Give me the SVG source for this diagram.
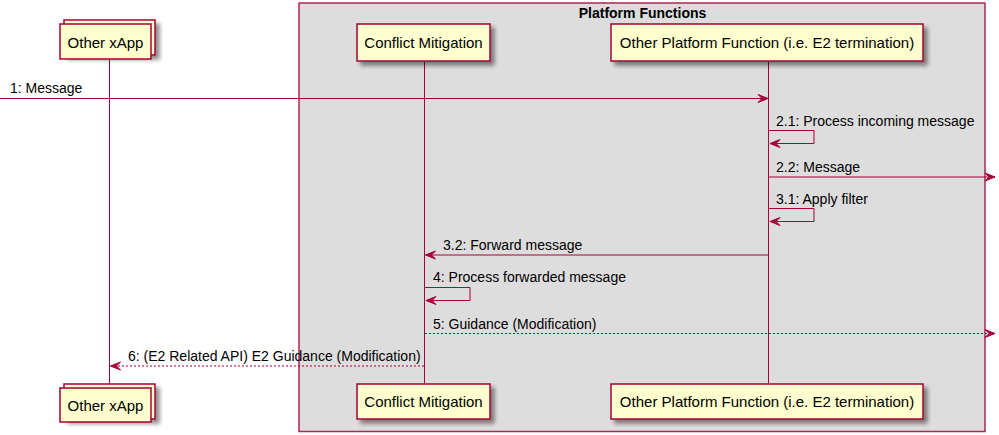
<svg xmlns="http://www.w3.org/2000/svg" width="999" height="435" viewBox="0 0 999 435">
<style>
.part{fill:#FEFECE;stroke:#A80036;stroke-width:1.5}
.ptxt{font-family:"Liberation Sans",Arial,sans-serif;font-size:15px;fill:#000}
.mtxt{font-family:"Liberation Sans",Arial,sans-serif;font-size:14px;fill:#000}
.life{stroke:#A80036;stroke-width:1;fill:none}
.msg{stroke:#A80036;stroke-width:1;fill:none;marker-end:url(#ah)}
.dot{stroke-dasharray:2,2}
</style>
<defs>
<filter id="sh" x="-20%" y="-30%" width="140%" height="170%">
<feGaussianBlur in="SourceAlpha" stdDeviation="2"/>
<feOffset dx="4" dy="4" result="o"/>
<feComponentTransfer><feFuncA type="linear" slope="0.45"/></feComponentTransfer>
<feMerge><feMergeNode/><feMergeNode in="SourceGraphic"/></feMerge>
</filter>
<marker id="ah" markerUnits="userSpaceOnUse" markerWidth="12" markerHeight="10" refX="10" refY="4" orient="auto" overflow="visible">
<path d="M0,0 L10,4 L0,8 L4,4 Z" fill="#A80036" stroke="#A80036" stroke-width="1"/>
</marker>
</defs>
<rect width="999" height="435" fill="#FFFFFF"/>
<g id="platform-functions">
<rect x="299" y="3" width="686" height="428.5" fill="#DDDDDD" stroke="#A80036" stroke-width="1.5" stroke-opacity="0.85"/>
<text x="642.5" y="18" text-anchor="middle" font-family="'Liberation Sans',Arial,sans-serif" font-size="14" font-weight="bold">Platform Functions</text>
</g>
<g id="lifelines">
<line class="life" x1="109.5" y1="59" x2="109.5" y2="384"/>
<line class="life" x1="424.5" y1="61" x2="424.5" y2="384"/>
<line class="life" x1="768.5" y1="61" x2="768.5" y2="384"/>
</g>
<g id="other-xapp-top">
<rect class="part" x="64" y="20" width="91" height="35" filter="url(#sh)"/>
<rect class="part" x="60" y="24" width="91" height="35"/>
<text class="ptxt" x="105.5" y="47.5" text-anchor="middle">Other xApp</text>
</g>
<g id="conflict-mitigation-top">
<rect class="part" x="357" y="24" width="133" height="37" filter="url(#sh)"/>
<text class="ptxt" x="423.5" y="48" text-anchor="middle">Conflict Mitigation</text>
</g>
<g id="other-platform-top">
<rect class="part" x="611" y="24" width="312" height="37" filter="url(#sh)"/>
<text class="ptxt" x="767" y="48" text-anchor="middle">Other Platform Function (i.e. E2 termination)</text>
</g>
<g id="other-xapp-bottom">
<rect class="part" x="64" y="384" width="91" height="35" filter="url(#sh)"/>
<rect class="part" x="60" y="388" width="91" height="34"/>
<text class="ptxt" x="105.5" y="411" text-anchor="middle">Other xApp</text>
</g>
<g id="conflict-mitigation-bottom">
<rect class="part" x="357" y="384" width="133" height="35" filter="url(#sh)"/>
<text class="ptxt" x="423.5" y="407" text-anchor="middle">Conflict Mitigation</text>
</g>
<g id="other-platform-bottom">
<rect class="part" x="611" y="384" width="312" height="35" filter="url(#sh)"/>
<text class="ptxt" x="767" y="407" text-anchor="middle">Other Platform Function (i.e. E2 termination)</text>
</g>
<g id="connectors">
<line class="msg" x1="0" y1="98.5" x2="768" y2="98.5"/>
<text class="mtxt" x="10" y="93">1: Message</text>
<path class="msg" d="M769,130.5 H814 V143.5 H770"/>
<text class="mtxt" x="776" y="126">2.1: Process incoming message</text>
<line class="msg" x1="769" y1="177" x2="995" y2="177"/>
<text class="mtxt" x="776" y="172">2.2: Message</text>
<path class="msg" d="M769,208.5 H814 V221.5 H770"/>
<text class="mtxt" x="776" y="204">3.1: Apply filter</text>
<line class="msg" x1="768" y1="255" x2="425.5" y2="255"/>
<text class="mtxt" x="443" y="250">3.2: Forward message</text>
<path class="msg" d="M425,287.5 H470 V300.5 H426"/>
<text class="mtxt" x="433" y="282">4: Process forwarded message</text>
<line class="msg dot" x1="425" y1="333.5" x2="995" y2="333.5"/>
<text class="mtxt" x="433" y="329">5: Guidance (Modification)</text>
<line class="msg dot" x1="424" y1="366" x2="110.5" y2="366"/>
<text class="mtxt" x="128" y="361">6: (E2 Related API) E2 Guidance (Modification)</text>
</g>
</svg>
